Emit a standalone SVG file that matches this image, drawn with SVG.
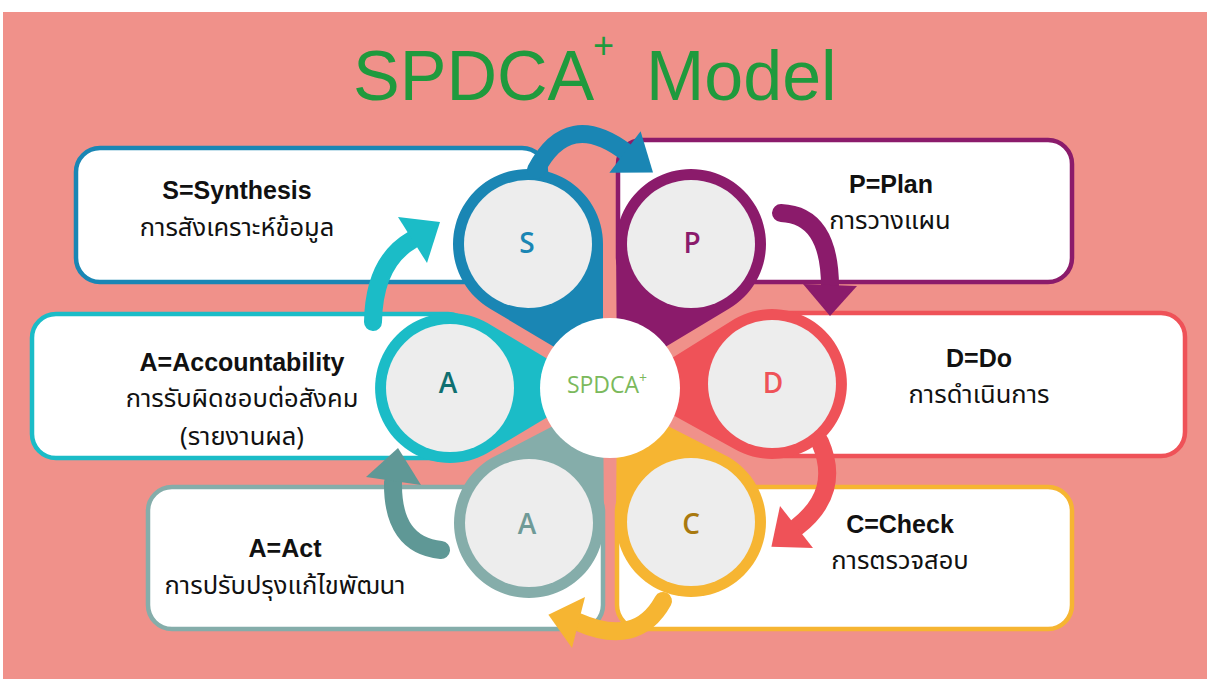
<svg xmlns="http://www.w3.org/2000/svg" width="1207" height="679" viewBox="0 0 1207 679">
<style>
.box{fill:#fff;stroke-width:4.5}
.inner{fill:#EDEDED}
.en{font-family:'Liberation Sans','Noto Sans',sans-serif;font-weight:bold;font-size:25px;fill:#111;text-anchor:middle}
.th{font-family:'Noto Sans Thai','Noto Sans','Loma','Garuda','Tlwg Typo','DejaVu Sans',sans-serif;font-size:25.5px;fill:#111;text-anchor:middle}
.let{font-family:'Open Sans','Noto Sans',sans-serif;font-weight:600;font-size:28px;text-anchor:middle}
.arr{fill:none;stroke-width:18;stroke-linecap:round}
.title{font-family:'Liberation Sans',Arial,sans-serif;fill:#1F9A3D}
</style>
<rect x="0" y="0" width="1207" height="679" fill="#fff"/>
<rect x="3" y="12" width="1204" height="667" fill="#F0918A"/>
<text class="title" x="353" y="100" font-size="70">SPDCA</text>
<text class="title" x="593" y="58" font-size="36">+</text>
<text class="title" x="646" y="100" font-size="70">Model</text>

<g id="node-S">
<rect class="box" x="76" y="148" width="470" height="134" rx="24" stroke="#1A86B4"/>
<text class="en" x="237" y="199">S=Synthesis</text>
<text class="th" x="237" y="236">การสังเคราะห์ข้อมูล</text>
</g>
<g id="node-P">
<rect class="box" x="618" y="140" width="454" height="142" rx="24" stroke="#8B1B6B"/>
<text class="en" x="891" y="193">P=Plan</text>
<text class="th" x="890" y="229">การวางแผน</text>
</g>
<g id="node-D">
<rect class="box" x="755" y="313" width="430" height="143" rx="24" stroke="#EF5258"/>
<text class="en" x="979" y="367">D=Do</text>
<text class="th" x="979" y="403">การดำเนินการ</text>
</g>
<g id="node-C">
<rect class="box" x="617" y="487" width="455" height="142" rx="24" stroke="#F6B532"/>
<text class="en" x="900" y="533">C=Check</text>
<text class="th" x="900" y="569">การตรวจสอบ</text>
</g>
<g id="node-A2">
<rect class="box" x="148" y="487" width="455" height="142" rx="24" stroke="#85ADAA"/>
<text class="en" x="285" y="557">A=Act</text>
<text class="th" x="285" y="594">การปรับปรุงแก้ไขพัฒนา</text>
</g>
<g id="node-A1">
<rect class="box" x="32" y="314" width="440" height="144" rx="24" stroke="#1BBCC7"/>
<text class="en" x="242" y="371">A=Accountability</text>
<text class="th" x="242" y="407">การรับผิดชอบต่อสังคม</text>
<text class="th" x="242" y="445">(รายงานผล)</text>
</g>

<g id="petals">
<g id="petal-S"><path d="M603,376 L603,244 A75,75 0 1 0 490.5,309 Z" fill="#1A86B4"/><circle class="inner" cx="528" cy="244" r="64"/><text class="let" x="527" y="253" fill="#1A86B4">S</text></g>
<g id="petal-P"><path d="M617,376 L616,244 A75,75 0 1 1 728.5,309 Z" fill="#8B1B6B"/><circle class="inner" cx="691" cy="244" r="64"/><text class="let" x="692" y="253" fill="#8B1B6B">P</text></g>
<g id="petal-D"><path d="M624,388 L734.5,319 A75,75 0 1 1 734.5,449 Z" fill="#EF5258"/><circle class="inner" cx="772" cy="384" r="64"/><text class="let" x="773" y="393" fill="#EF5258">D</text></g>
<g id="petal-C"><path d="M617,400 L728.5,457 A75,75 0 1 1 616,522 Z" fill="#F6B532"/><circle class="inner" cx="691" cy="522" r="64"/><text class="let" x="691" y="534" fill="#A9790F">C</text></g>
<g id="petal-A2"><path d="M603,400 L604,523 A75,75 0 1 1 491.5,458 Z" fill="#85ADAA"/><circle class="inner" cx="529" cy="523" r="64"/><text class="let" x="527" y="534" fill="#6F9A97">A</text></g>
<g id="petal-A1"><path d="M596,388 L487.5,453 A75,75 0 1 1 487.5,323 Z" fill="#1BBCC7"/><circle class="inner" cx="450" cy="388" r="64"/><text class="let" x="448" y="393" fill="#0F6F70">A</text></g>
</g>

<g id="center">
<circle cx="610" cy="388" r="70" fill="#fff"/>
<text x="607" y="393" font-family="'Open Sans','Noto Sans',sans-serif" font-size="23" fill="#7BB95C" text-anchor="middle">SPDCA<tspan font-size="14" dy="-10">+</tspan></text>
</g>

<g id="connectors">
<path class="arr" d="M536,170 Q568,108 627,153" stroke="#1A86B4"/>
<polygon points="609.4,172.8 640.6,131.2 653,172.4" fill="#1A86B4"/>
<path class="arr" d="M781,213 Q830,215 830,287" stroke="#8B1B6B"/>
<polygon points="803,284 857,286 830,316" fill="#8B1B6B"/>
<path class="arr" d="M820,442 Q842,492 797,527" stroke="#EF5258"/>
<polygon points="780,506 813,548 771.4,546.8" fill="#EF5258"/>
<path class="arr" d="M663,601 Q637,648 578,622" stroke="#F6B532"/>
<polygon points="585,597 572,648 548.4,614.8" fill="#F6B532"/>
<path class="arr" d="M441,550 Q392,545 393,482" stroke="#5F9896"/>
<polygon points="366,477 421,485 398,448" fill="#5F9896"/>
<path class="arr" d="M373,322 Q374,262 412,240" stroke="#1BBCC7"/>
<polygon points="398,217 427,263 440,222" fill="#1BBCC7"/>
</g>
</svg>
